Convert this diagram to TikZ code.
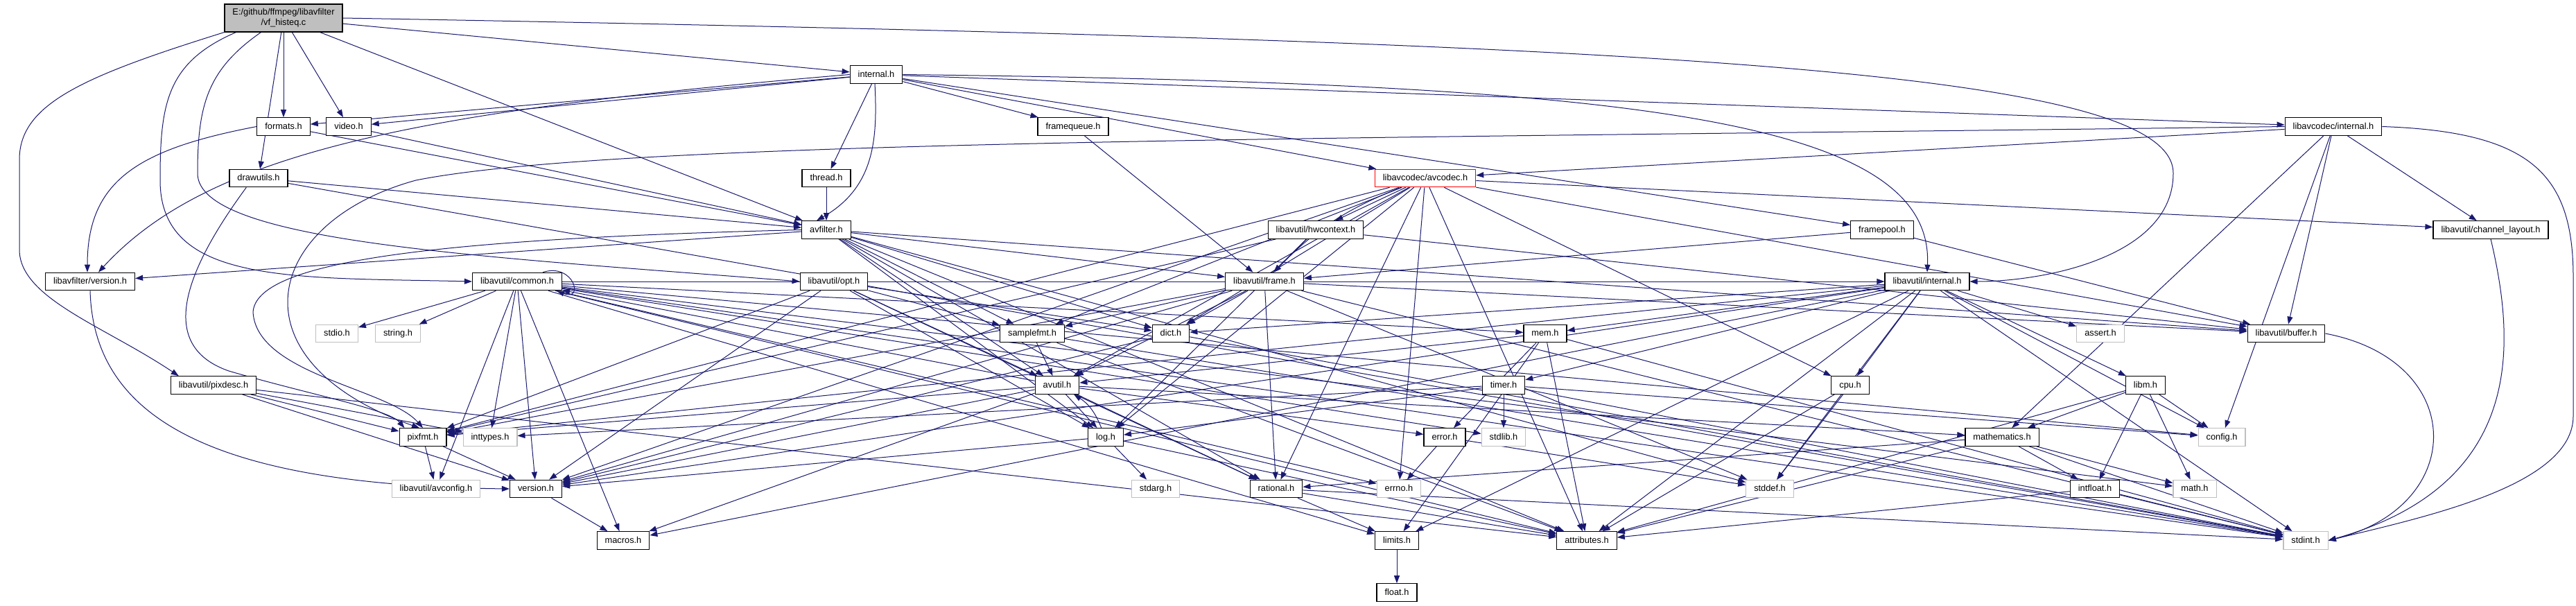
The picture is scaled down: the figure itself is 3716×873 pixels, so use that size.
\documentclass[tikz,border=0pt]{standalone}
\usepackage{fontspec}
\setmainfont{Liberation Sans}
\usetikzlibrary{arrows.meta}
\pgfdeclarelayer{bgl}
\pgfdeclarelayer{edl}
\pgfsetlayers{bgl,edl,main}
\definecolor{navy}{HTML}{191970}
\definecolor{sysgray}{HTML}{BFBFBF}
\newcommand\fsz{\fontsize{12.8pt}{15pt}\selectfont}
\begin{document}
\begin{tikzpicture}[x=1pt,y=-1pt,
  nd/.style={draw=black, line width=1.2pt, fill=white, inner xsep=11.5pt, inner ysep=0pt,
    minimum height=25.5pt, font=\fsz, text height=9.6pt, text depth=2.6pt},
  sys/.style={nd, draw=sysgray},
  edge/.style={draw=navy, line width=1pt, -{Triangle[length=11pt,width=8pt]}}]
\useasboundingbox (0,0) rectangle (3716,873);
\begin{pgfonlayer}{bgl}
\fill[white] (0,0) rectangle (3716,873);
\end{pgfonlayer}
% row 0
\node[nd, fill=sysgray, align=center, minimum width=170pt, minimum height=40pt, text height=, text depth=] (root) at (409,26) {E:/github/ffmpeg/libavfilter\\/vf\_histeq.c};
% row 1
\node[nd] (lafint) at (1264,107.5) {internal.h};
% row 2
\node[nd] (formats) at (409,182.5) {formats.h};
\node[nd] (video) at (503,182.5) {video.h};
\node[nd] (fq) at (1548,182.5) {framequeue.h};
\node[nd] (lacint) at (3366,182.5) {libavcodec/internal.h};
% row 3
\node[nd] (drawutils) at (373,257) {drawutils.h};
\node[nd] (thread) at (1192,257) {thread.h};
\node[nd, draw=red] (avcodec) at (2056,257) {libavcodec/avcodec.h};
% row 4
\node[nd] (avfilter) at (1192,331.5) {avfilter.h};
\node[nd] (hwctx) at (1898,331.5) {libavutil/hwcontext.h};
\node[nd] (framepool) at (2715,331.5) {framepool.h};
\node[nd] (chlayout) at (3593,331.5) {libavutil/channel\_layout.h};
% row 5
\node[nd] (lafver) at (130,406) {libavfilter/version.h};
\node[nd] (common) at (746,406) {libavutil/common.h};
\node[nd] (opt) at (1203,406) {libavutil/opt.h};
\node[nd] (frame) at (1824,406) {libavutil/frame.h};
\node[nd] (luint) at (2780,406) {libavutil/internal.h};
% row 6
\node[sys] (stdio) at (486,481) {stdio.h};
\node[sys] (string) at (574,481) {string.h};
\node[nd] (samplefmt) at (1489,481) {samplefmt.h};
\node[nd] (dict) at (1689,481) {dict.h};
\node[nd] (mem) at (2229,481) {mem.h};
\node[sys] (assert) at (3030,481) {assert.h};
\node[nd] (buffer) at (3298,481) {libavutil/buffer.h};
% row 7
\node[nd] (pixdesc) at (308,555.5) {libavutil/pixdesc.h};
\node[nd] (avutil) at (1525,555.5) {avutil.h};
\node[nd] (timer) at (2169,555.5) {timer.h};
\node[nd] (cpu) at (2669,555.5) {cpu.h};
\node[nd] (libm) at (3095,555.5) {libm.h};
% row 8
\node[nd] (pixfmt) at (610,630.5) {pixfmt.h};
\node[sys] (inttypes) at (707,630.5) {inttypes.h};
\node[nd] (log) at (1595,630.5) {log.h};
\node[nd] (error) at (2084,630.5) {error.h};
\node[sys] (stdlib) at (2169,630.5) {stdlib.h};
\node[nd] (mathematics) at (2888,630.5) {mathematics.h};
\node[sys] (config) at (3205,630.5) {config.h};
% row 9
\node[sys] (avconfig) at (629,705) {libavutil/avconfig.h};
\node[nd] (version) at (773,705) {version.h};
\node[sys] (stdarg) at (1667,705) {stdarg.h};
\node[nd] (rational) at (1841,705) {rational.h};
\node[sys] (errno) at (2018,705) {errno.h};
\node[sys] (stddef) at (2553,705) {stddef.h};
\node[nd] (intfloat) at (3022,705) {intfloat.h};
\node[sys] (math) at (3166,705) {math.h};
% row 10
\node[nd] (macros) at (899,779.5) {macros.h};
\node[nd] (limits) at (2015,779.5) {limits.h};
\node[nd] (attributes) at (2289,779.5) {attributes.h};
\node[sys] (stdint) at (3326,779.5) {stdint.h};
% row 11
\node[nd] (float) at (2015,854.5) {float.h};

\begin{pgfonlayer}{edl}
\foreach \a/\b in {root/avfilter, root/drawutils, root/formats, root/lafint, root/video,
  lafint/formats, lafint/framepool, lafint/fq, lafint/thread, lafint/video, lafint/avcodec, lafint/lacint,
  formats/avfilter, video/avfilter, drawutils/stdint, drawutils/avfilter, thread/avfilter, fq/frame,
  lacint/buffer, lacint/chlayout, lacint/mathematics, lacint/avcodec, lacint/config,
  avcodec/errno, avcodec/samplefmt, avcodec/attributes, avcodec/avutil, avcodec/buffer, avcodec/cpu, avcodec/chlayout, avcodec/dict, avcodec/hwctx, avcodec/log, avcodec/pixfmt, avcodec/rational, avcodec/version,
  avfilter/stddef, avfilter/attributes, avfilter/avutil, avfilter/buffer, avfilter/dict, avfilter/frame, avfilter/log, avfilter/samplefmt, avfilter/rational, avfilter/lafver,
  hwctx/buffer, hwctx/frame, hwctx/log, hwctx/pixfmt,
  framepool/buffer, framepool/frame,
  common/errno, common/inttypes, common/limits, common/math, common/stdint, common/stdio, common/stdlib, common/string, common/attributes, common/macros, common/version, common/avconfig, common/config, common/mem, common/luint,
  opt/rational, opt/avutil, opt/dict, opt/log, opt/pixfmt, opt/samplefmt, opt/version,
  frame/stddef, frame/stdint, frame/avutil, frame/buffer, frame/dict, frame/rational, frame/samplefmt, frame/pixfmt, frame/version,
  luint/limits, luint/stdint, luint/stddef, luint/assert, luint/config, luint/attributes, luint/timer, luint/cpu, luint/dict, luint/macros, luint/mem, luint/pixfmt, luint/version, luint/libm,
  samplefmt/avutil, samplefmt/attributes, samplefmt/stdint,
  dict/stdint, dict/version,
  mem/limits, mem/stdint, mem/attributes, mem/error, mem/avutil,
  pixdesc/inttypes, pixdesc/attributes, pixdesc/pixfmt, pixdesc/version,
  avutil/common, avutil/error, avutil/rational, avutil/version, avutil/macros, avutil/mathematics, avutil/log, avutil/pixfmt,
  timer/stdlib, timer/stdint, timer/inttypes, timer/config, timer/log,
  cpu/stddef, cpu/attributes,
  libm/math, libm/config, libm/attributes, libm/intfloat, libm/mathematics,
  pixfmt/avconfig, pixfmt/version,
  log/stdarg, log/attributes, log/version,
  error/errno, error/stddef,
  mathematics/stdint, mathematics/math, mathematics/attributes, mathematics/rational, mathematics/intfloat,
  version/macros,
  rational/stdint, rational/limits, rational/attributes,
  intfloat/stdint, intfloat/attributes,
  limits/float}
  \draw[edge] (\a) -- (\b);
% curved connectors
\draw[edge] (log) to[bend right=18] (avutil);
\draw[edge] (avcodec) to[bend right=12] (frame);
\draw[edge] ([xshift=-2pt]lafint.south) .. controls (1266,200) and (1262,270) .. ([xshift=22pt]avfilter.north west);
\draw[edge] (root.east) .. controls (2400,60) and (3135,100) .. (3135,250) .. controls (3135,370) and (2950,406) .. (luint.east);
\draw[edge] (root.south west) .. controls (120,110) and (28,150) .. (28,230) -- (28,360) .. controls (28,430) and (150,470) .. ([xshift=12pt]pixdesc.north west);
\draw[edge] ([xshift=17pt]root.south west) .. controls (240,90) and (231,150) .. (231,260) .. controls (231,410) and (420,400) .. (common.west);
\draw[edge] ([xshift=53pt]root.south west) .. controls (300,100) and (285,150) .. (285,250) .. controls (285,350) and (700,370) .. (opt.west);
\draw[edge] (lafint.east) .. controls (2350,120) and (2790,170) .. (luint.north);
\draw[edge] (lacint.east) .. controls (3650,190) and (3712,250) .. (3712,400) -- (3712,600) .. controls (3712,700) and (3500,745) .. (stdint.east);
\draw[edge] (chlayout.south) .. controls (3630,500) and (3640,700) .. (stdint.east);
\draw[edge] (buffer.east) .. controls (3560,520) and (3560,730) .. (stdint.east);
\draw[edge] (lafint.west) .. controls (600,160) and (300,220) .. ([xshift=12pt]lafver.north);
\draw[edge] (formats.west) .. controls (200,215) and (126,260) .. ([xshift=-4pt]lafver.north);
\draw[edge] ([xshift=-28pt]common.north east) .. controls +(45,-14) and +(40,16) .. ([xshift=-8pt]common.south east);
\draw[edge] (lacint.west) .. controls (2000,200) and (900,200) .. (600,260) .. controls (380,320) and (330,520) .. ([xshift=-5pt]pixfmt.north);
\draw[edge] (avfilter.west) .. controls (600,345) and (370,380) .. (365,450) .. controls (370,540) and (560,560) .. (pixfmt.north);
\draw[edge] ([xshift=25pt]drawutils.south west) .. controls (260,400) and (230,500) .. (330,535) .. controls (450,570) and (560,590) .. ([xshift=8pt]pixfmt.north west);
\draw[edge] (lafver.south) .. controls (135,600) and (300,700) .. (version.west);
\end{pgfonlayer}
\end{tikzpicture}
\end{document}
